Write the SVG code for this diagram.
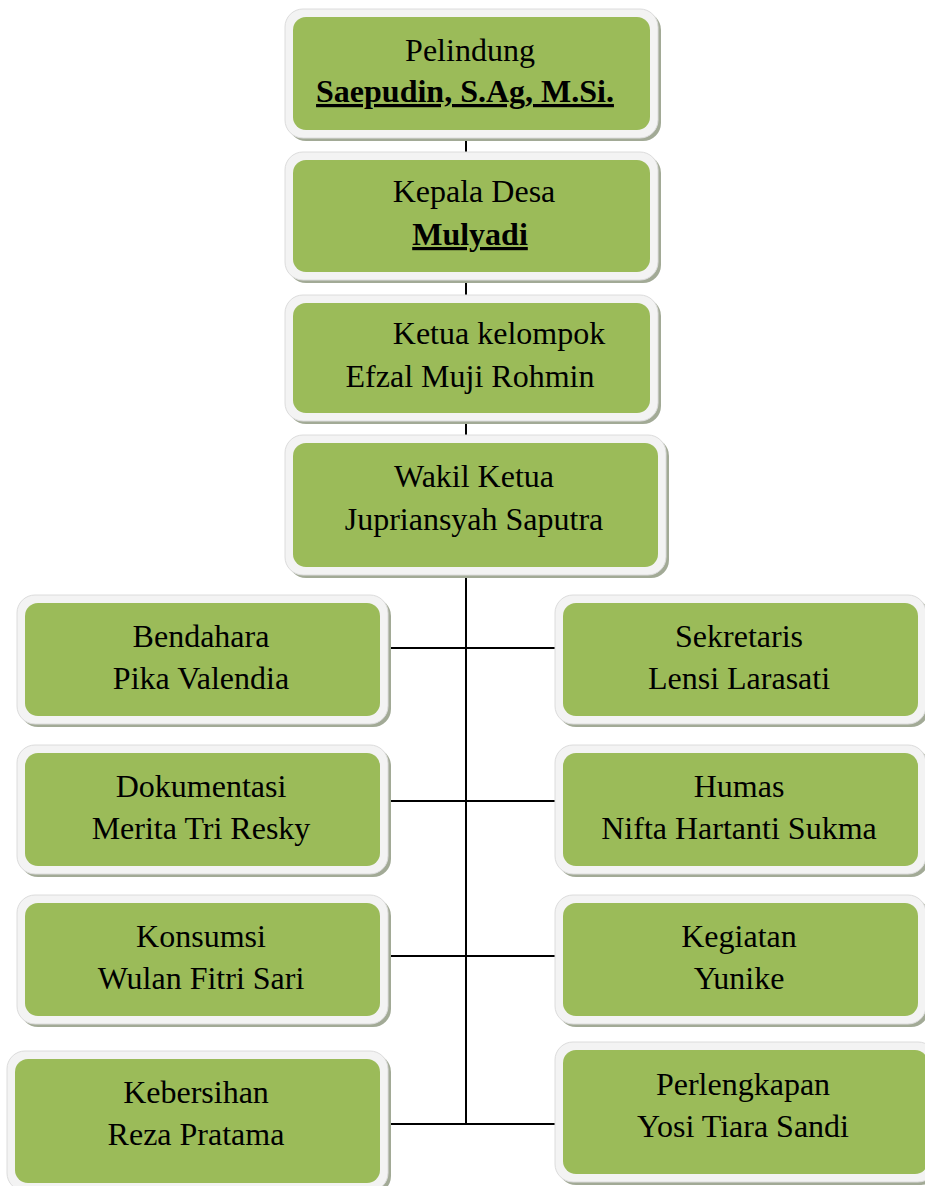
<svg xmlns="http://www.w3.org/2000/svg" width="925" height="1186" viewBox="0 0 925 1186">
<style>
.sh{fill:#a2aa96}
.ou{fill:#f3f3f3;stroke:#dcdcdc;stroke-width:1}
.gr{fill:#9bbb59}
.t{font-family:"Liberation Serif","Times New Roman",serif;font-size:32px;fill:#000;text-anchor:middle}
.b{font-weight:bold;text-decoration:underline}
.ln{stroke:#000;stroke-width:2;fill:none}
</style>
<rect width="925" height="1186" fill="#fff"/>
<g id="connectors">
<line class="ln" x1="466" y1="130" x2="466" y2="160"/>
<line class="ln" x1="466" y1="272" x2="466" y2="303"/>
<line class="ln" x1="466" y1="413" x2="466" y2="443"/>
<line class="ln" x1="466" y1="567" x2="466" y2="1124"/>
<line class="ln" x1="388" y1="648" x2="557" y2="648"/>
<line class="ln" x1="388" y1="801" x2="557" y2="801"/>
<line class="ln" x1="388" y1="956" x2="557" y2="956"/>
<line class="ln" x1="388" y1="1124" x2="557" y2="1124"/>
</g>
<g id="pelindung">
<rect class="sh" x="288" y="12" width="373" height="129" rx="18"/>
<rect class="ou" x="285" y="9" width="373" height="129" rx="18"/>
<rect class="gr" x="293" y="17" width="357" height="113" rx="13"/>
<text class="t" x="470" y="61">Pelindung</text>
<text class="t b" x="465" y="102">Saepudin, S.Ag, M.Si.</text>
</g>
<g id="kepala-desa">
<rect class="sh" x="288" y="155" width="373" height="128" rx="18"/>
<rect class="ou" x="285" y="152" width="373" height="128" rx="18"/>
<rect class="gr" x="293" y="160" width="357" height="112" rx="13"/>
<text class="t" x="474" y="202">Kepala Desa</text>
<text class="t b" x="470" y="245">Mulyadi</text>
</g>
<g id="ketua">
<rect class="sh" x="288" y="298" width="373" height="126" rx="18"/>
<rect class="ou" x="285" y="295" width="373" height="126" rx="18"/>
<rect class="gr" x="293" y="303" width="357" height="110" rx="13"/>
<text class="t" x="499" y="344">Ketua kelompok</text>
<text class="t" x="470" y="387">Efzal Muji Rohmin</text>
</g>
<g id="wakil">
<rect class="sh" x="288" y="438" width="381" height="140" rx="18"/>
<rect class="ou" x="285" y="435" width="381" height="140" rx="18"/>
<rect class="gr" x="293" y="443" width="365" height="124" rx="13"/>
<text class="t" x="474" y="487">Wakil Ketua</text>
<text class="t" x="474" y="530">Jupriansyah Saputra</text>
</g>
<g id="bendahara">
<rect class="sh" x="20" y="598" width="371" height="129" rx="18"/>
<rect class="ou" x="17" y="595" width="371" height="129" rx="18"/>
<rect class="gr" x="25" y="603" width="355" height="113" rx="13"/>
<text class="t" x="201" y="647">Bendahara</text>
<text class="t" x="201" y="689">Pika Valendia</text>
</g>
<g id="sekretaris">
<rect class="sh" x="558" y="598" width="371" height="129" rx="18"/>
<rect class="ou" x="555" y="595" width="371" height="129" rx="18"/>
<rect class="gr" x="563" y="603" width="355" height="113" rx="13"/>
<text class="t" x="739" y="647">Sekretaris</text>
<text class="t" x="739" y="689">Lensi Larasati</text>
</g>
<g id="dokumentasi">
<rect class="sh" x="20" y="748" width="371" height="129" rx="18"/>
<rect class="ou" x="17" y="745" width="371" height="129" rx="18"/>
<rect class="gr" x="25" y="753" width="355" height="113" rx="13"/>
<text class="t" x="201" y="797">Dokumentasi</text>
<text class="t" x="201" y="839">Merita Tri Resky</text>
</g>
<g id="humas">
<rect class="sh" x="558" y="748" width="371" height="129" rx="18"/>
<rect class="ou" x="555" y="745" width="371" height="129" rx="18"/>
<rect class="gr" x="563" y="753" width="355" height="113" rx="13"/>
<text class="t" x="739" y="797">Humas</text>
<text class="t" x="739" y="839">Nifta Hartanti Sukma</text>
</g>
<g id="konsumsi">
<rect class="sh" x="20" y="898" width="371" height="129" rx="18"/>
<rect class="ou" x="17" y="895" width="371" height="129" rx="18"/>
<rect class="gr" x="25" y="903" width="355" height="113" rx="13"/>
<text class="t" x="201" y="947">Konsumsi</text>
<text class="t" x="201" y="989">Wulan Fitri Sari</text>
</g>
<g id="kegiatan">
<rect class="sh" x="558" y="898" width="371" height="129" rx="18"/>
<rect class="ou" x="555" y="895" width="371" height="129" rx="18"/>
<rect class="gr" x="563" y="903" width="355" height="113" rx="13"/>
<text class="t" x="739" y="947">Kegiatan</text>
<text class="t" x="739" y="989">Yunike</text>
</g>
<g id="kebersihan">
<rect class="sh" x="10" y="1054" width="381" height="140" rx="18"/>
<rect class="ou" x="7" y="1051" width="381" height="140" rx="18"/>
<rect class="gr" x="15" y="1059" width="365" height="124" rx="13"/>
<text class="t" x="196" y="1103">Kebersihan</text>
<text class="t" x="196" y="1145">Reza Pratama</text>
</g>
<g id="perlengkapan">
<rect class="sh" x="558" y="1045" width="381" height="140" rx="18"/>
<rect class="ou" x="555" y="1042" width="381" height="140" rx="18"/>
<rect class="gr" x="563" y="1050" width="365" height="124" rx="13"/>
<text class="t" x="743" y="1095">Perlengkapan</text>
<text class="t" x="743" y="1137">Yosi Tiara Sandi</text>
</g>
</svg>
